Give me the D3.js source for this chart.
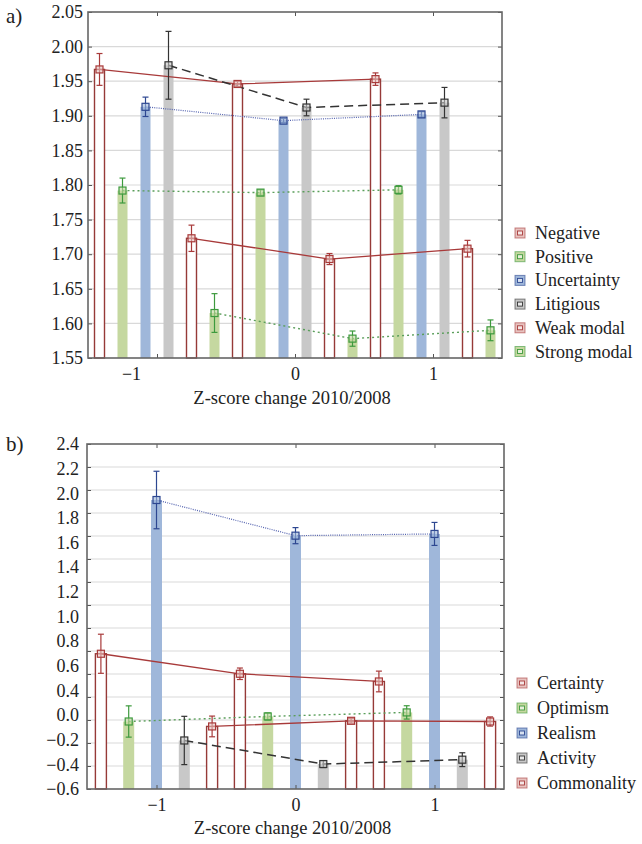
<!DOCTYPE html>
<html>
<head>
<meta charset="utf-8">
<script src="https://cdn.jsdelivr.net/npm/d3@7"></script>
<style>
body { margin: 0; background: #fff; }
</style>
</head>
<body>
<div id="chart"></div>
<script>
// x groups (Z-score change)
var groups = [-1, 0, 1];

// panel a
var seriesA = ["Negative", "Positive", "Uncertainty", "Litigious", "Weak modal", "Strong modal"];
var kindA = ["red", "green", "blue", "gray", "red", "green"];
var meansA = [
  [1.967, 1.946, 1.953],
  [1.792, 1.789, 1.793],
  [1.913, 1.893, 1.902],
  [1.973, 1.912, 1.919],
  [1.723, 1.693, 1.708],
  [1.615, 1.578, 1.590]
];
var errA = [
  [0.023, 0.004, 0.009],
  [0.018, 0.004, 0.006],
  [0.014, 0.003, 0.004],
  [0.049, 0.012, 0.022],
  [0.019, 0.008, 0.012],
  [0.028, 0.011, 0.015]
];
var yTicksA = [1.55, 1.60, 1.65, 1.70, 1.75, 1.80, 1.85, 1.90, 1.95, 2.00, 2.05];

// panel b
var seriesB = ["Certainty", "Optimism", "Realism", "Activity", "Commonality"];
var kindB = ["red", "green", "blue", "gray", "red"];
var meansB = [
  [0.576, 0.402, 0.335],
  [-0.013, 0.031, 0.066],
  [1.913, 1.603, 1.618],
  [-0.178, -0.383, -0.345],
  [-0.056, -0.007, -0.013]
];
var errB = [
  [0.17, 0.05, 0.09],
  [0.136, 0.03, 0.058],
  [0.25, 0.07, 0.10],
  [0.21, 0.03, 0.06],
  [0.09, 0.02, 0.04]
];
var yGridB = [-0.6, -0.4, -0.2, 0.0, 0.2, 0.4, 0.6, 0.8, 1.0, 1.2, 1.4, 1.6, 1.8, 2.0, 2.2, 2.4];
// labels as printed on the axis (evenly spread, 0.2 missing)
var yLabelsB = ["2.4", "2.2", "2.0", "1.8", "1.6", "1.4", "1.2", "1.0", "0.8", "0.6", "0.4", "0.0", "\u22120.2", "\u22120.4", "\u22120.6"];

var xTitle = "Z-score change 2010/2008";
var FONT = "'Liberation Serif', 'Times New Roman', serif";

var styles = {
  red:   {fill: "#ffffff", bar: "#963a38", mark: "#a83a3a", line: "#a83a3a", dash: null,    lw: 1.3, legFill: "#e7c3c0"},
  green: {fill: "#c5d8a0", bar: "none",    mark: "#3d9a3d", line: "#5a9e5a", dash: "2,3",   lw: 1.4, legFill: "#c5d8a0"},
  blue:  {fill: "#9fb7da", bar: "none",    mark: "#2d4791", line: "#5564b0", dash: "1,1.2", lw: 1.2, legFill: "#9fb7da"},
  gray:  {fill: "#c8c8c8", bar: "none",    mark: "#333333", line: "#333333", dash: "9,5",   lw: 1.5, legFill: "#c8c8c8"}
};

var W = 642, H = 844;
var svg = d3.select("#chart").append("svg")
    .attr("width", W)
    .attr("height", H);

function drawPanel(opt) {
  var left = opt.left, right = opt.right, top = opt.top, bottom = opt.bottom;
  var x = d3.scaleLinear().domain([-1.5, 1.5]).range([left, right]);
  var y = d3.scaleLinear().domain(opt.yDomain).range([bottom, top]);
  var sub = d3.scaleBand().domain(opt.series).range([-0.5, 0.5]);
  var g = svg.append("g");

  function xpos(si, gi) {
    return x(groups[gi] + sub(opt.series[si]) + sub.bandwidth() / 2);
  }

  // grid
  g.selectAll(".grid")
    .data(opt.grid.slice(1, -1))
    .enter().append("line")
    .attr("x1", left).attr("x2", right)
    .attr("y1", function(d) { return y(d); })
    .attr("y2", function(d) { return y(d); })
    .attr("stroke", "#d9d9d9")
    .attr("stroke-width", 1.2);

  // bars
  opt.series.forEach(function(s, si) {
    var st = styles[opt.kind[si]];
    g.selectAll(".bar" + si)
      .data(opt.means[si])
      .enter().append("rect")
      .attr("x", function(d, gi) { return xpos(si, gi) - opt.barW / 2; })
      .attr("y", function(d) { return y(d); })
      .attr("width", opt.barW)
      .attr("height", function(d) { return bottom - y(d); })
      .attr("fill", st.fill)
      .attr("stroke", st.bar)
      .attr("stroke-width", 1.4);
  });

  // lines
  opt.series.forEach(function(s, si) {
    var st = styles[opt.kind[si]];
    var line = d3.line()
      .x(function(d, gi) { return xpos(si, gi); })
      .y(function(d) { return y(d); });
    g.append("path")
      .datum(opt.means[si])
      .attr("d", line)
      .attr("fill", "none")
      .attr("stroke", st.line)
      .attr("stroke-width", st.lw)
      .attr("stroke-dasharray", st.dash);
  });

  // error bars and markers
  opt.series.forEach(function(s, si) {
    var st = styles[opt.kind[si]];
    var e = opt.errs[si];
    var eg = g.selectAll(".eb" + si)
      .data(opt.means[si])
      .enter().append("g")
      .attr("stroke", st.mark)
      .attr("stroke-width", 1.2);
    eg.append("line")
      .attr("x1", function(d, gi) { return xpos(si, gi); })
      .attr("x2", function(d, gi) { return xpos(si, gi); })
      .attr("y1", function(d, gi) { return y(d + e[gi]); })
      .attr("y2", function(d, gi) { return y(d - e[gi]); });
    [1, -1].forEach(function(sg) {
      eg.append("line")
        .attr("x1", function(d, gi) { return xpos(si, gi) - 3; })
        .attr("x2", function(d, gi) { return xpos(si, gi) + 3; })
        .attr("y1", function(d, gi) { return y(d + sg * e[gi]); })
        .attr("y2", function(d, gi) { return y(d + sg * e[gi]); });
    });
    eg.append("rect")
      .attr("x", function(d, gi) { return xpos(si, gi) - 3.5; })
      .attr("y", function(d) { return y(d) - 3.5; })
      .attr("width", 7).attr("height", 7)
      .attr("fill", st.legFill)
      .attr("fill-opacity", 0.6);
  });

  // axes (ticks inward)
  var ax = g.append("g").attr("transform", "translate(0," + bottom + ")")
    .call(d3.axisBottom(x).tickValues(groups).tickSize(-4).tickPadding(9).tickFormat(d3.format("d")));
  ax.select(".domain").remove();
  ax.selectAll("text")
    .style("font-family", FONT).style("font-size", "18px").attr("fill", "#222")
    .attr("dx", function(d) { return d === -1 ? opt.minusShift : 0; });
  ax.selectAll("line").attr("stroke", "#555");

  var axt = g.append("g").attr("transform", "translate(0," + top + ")")
    .call(d3.axisTop(x).tickValues(groups).tickSize(-4).tickFormat(""));
  axt.select(".domain").remove();
  axt.selectAll("line").attr("stroke", "#555");

  var axr = g.append("g").attr("transform", "translate(" + right + ",0)")
    .call(d3.axisRight(y).tickValues(opt.grid).tickSize(-4).tickFormat(""));
  axr.select(".domain").remove();
  axr.selectAll("line").attr("stroke", "#555");

  var axl = g.append("g").attr("transform", "translate(" + left + ",0)")
    .call(d3.axisLeft(y).tickValues(opt.grid).tickSize(-4).tickFormat(""));
  axl.select(".domain").remove();
  axl.selectAll("line").attr("stroke", "#555");

  // y labels
  var yl = g.append("g").attr("transform", "translate(" + left + ",0)")
    .call(d3.axisLeft(opt.labelScale).tickSize(0).tickPadding(opt.labelPad).tickFormat(opt.labelFormat));
  yl.select(".domain").remove();
  yl.selectAll("text")
    .style("font-family", FONT).style("font-size", "18px").attr("fill", "#222");

  // frame
  g.append("rect")
    .attr("x", left).attr("y", top)
    .attr("width", right - left).attr("height", bottom - top)
    .attr("fill", "none")
    .attr("stroke", "#666")
    .attr("stroke-width", 1.6);

  // x title
  g.append("text")
    .attr("x", (left + right) / 2 - 3)
    .attr("y", opt.titleY)
    .attr("text-anchor", "middle")
    .style("font-family", FONT).style("font-size", "18.5px")
    .attr("fill", "#222")
    .text(xTitle);

  // panel letter
  g.append("text")
    .attr("x", 6)
    .attr("y", opt.letterY)
    .style("font-family", FONT).style("font-size", "21px")
    .attr("fill", "#222")
    .text(opt.letter);

  // legend
  var leg = g.selectAll(".leg")
    .data(opt.series)
    .enter().append("g")
    .attr("transform", function(d, i) { return "translate(" + opt.legX + "," + (opt.legY + i * opt.legStep) + ")"; });
  leg.append("rect")
    .attr("x", -5).attr("y", -5).attr("width", 10).attr("height", 10)
    .attr("fill", function(d, i) { return styles[opt.kind[i]].legFill; })
    .attr("stroke", function(d, i) { return styles[opt.kind[i]].mark; })
    .attr("stroke-opacity", 0.6)
    .attr("stroke-width", 1);
  leg.append("rect")
    .attr("x", -2.5).attr("y", -2).attr("width", 5).attr("height", 4)
    .attr("fill", "#fff")
    .attr("fill-opacity", 0.6)
    .attr("stroke", function(d, i) { return styles[opt.kind[i]].mark; })
    .attr("stroke-width", 0.9);
  leg.append("text")
    .attr("x", 15)
    .attr("y", 6)
    .style("font-family", FONT).style("font-size", "18px")
    .attr("fill", "#222")
    .text(function(d) { return d; });
}

drawPanel({
  letter: "a)", letterY: 23,
  left: 88, right: 502, top: 12, bottom: 358,
  yDomain: [1.55, 2.05],
  series: seriesA, kind: kindA, means: meansA, errs: errA,
  grid: yTicksA,
  labelScale: d3.scaleLinear().domain([1.55, 2.05]).range([358, 12]),
  labelFormat: d3.format(".2f"), labelPad: 5,
  barW: 10, minusShift: -26,
  titleY: 404,
  legX: 520, legY: 233, legStep: 23.7
});

drawPanel({
  letter: "b)", letterY: 451,
  left: 87, right: 504, top: 444, bottom: 789,
  yDomain: [-0.6, 2.4],
  series: seriesB, kind: kindB, means: meansB, errs: errB,
  grid: yGridB,
  labelScale: d3.scalePoint().domain(yLabelsB).range([444, 789]),
  labelFormat: function(d) { return d; }, labelPad: 8,
  barW: 11, minusShift: 0,
  titleY: 834,
  legX: 522, legY: 683, legStep: 25
});
</script>
</body>
</html>
